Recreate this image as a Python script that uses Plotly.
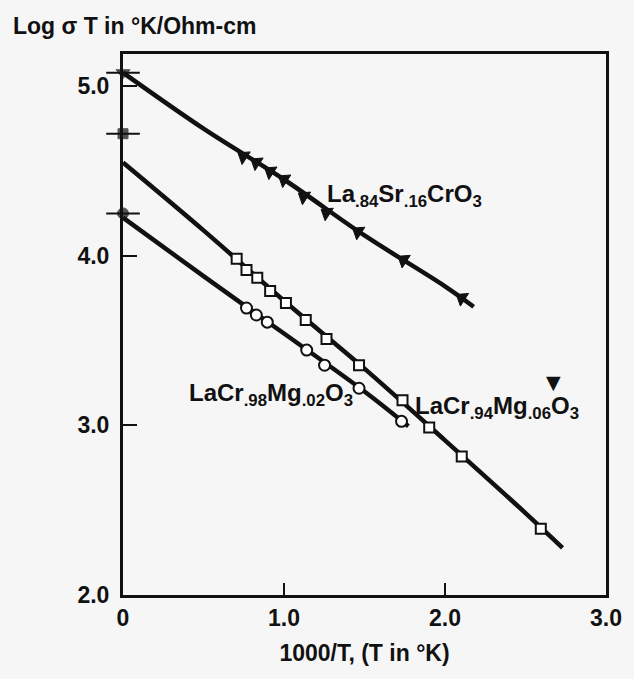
import plotly.graph_objects as go

# --- data ---
sr_x = [0.748, 0.828, 0.914, 1.000, 1.123, 1.264, 1.460, 1.742, 2.104]
sr_y = [4.586, 4.550, 4.497, 4.450, 4.349, 4.254, 4.142, 3.976, 3.751]
sr_fit_x = [0.0, 0.5, 1.0, 1.5, 2.0, 2.178]
sr_fit_y = [5.08, 4.75, 4.45, 4.12, 3.82, 3.70]

mg06_x = [0.706, 0.767, 0.834, 0.914, 1.012, 1.135, 1.264, 1.466, 1.736, 1.902, 2.104, 2.595]
mg06_y = [3.982, 3.917, 3.870, 3.793, 3.722, 3.621, 3.509, 3.355, 3.148, 2.988, 2.817, 2.391]
mg06_fit_x = [0.0, 0.5, 1.0, 1.5, 2.0, 2.5, 2.73]
mg06_fit_y = [4.55, 4.15, 3.735, 3.335, 2.912, 2.483, 2.278]

mg02_x = [0.767, 0.828, 0.896, 1.141, 1.252, 1.466, 1.730]
mg02_y = [3.692, 3.651, 3.609, 3.444, 3.355, 3.219, 3.024]
mg02_fit_x = [0.0, 0.5, 1.0, 1.5, 1.773]
mg02_fit_y = [4.225, 3.88, 3.542, 3.20, 2.995]

# intercepts marked on the y axis
icpt_x = [0.0, 0.0, 0.0]
icpt_y = [5.08, 4.72, 4.25]
icpt_sym = ["triangle-down", "square", "circle"]

x_ticks = [0, 1.0, 2.0, 3.0]
x_ticklabels = ["0", "1.0", "2.0", "3.0"]
y_ticks = [2.0, 3.0, 4.0, 5.0]
y_ticklabels = ["2.0", "3.0", "4.0", "5.0"]

INK = "#111111"
BG = "#f6f6f6"
FONT = "Liberation Sans, Arial, sans-serif"

fig = go.Figure()

for fx, fy in [(sr_fit_x, sr_fit_y), (mg06_fit_x, mg06_fit_y), (mg02_fit_x, mg02_fit_y)]:
    fig.add_trace(go.Scatter(x=fx, y=fy, mode="lines", line=dict(color=INK, width=4.5, shape="spline"),
                             hoverinfo="skip", showlegend=False, cliponaxis=False))

fig.add_trace(go.Scatter(x=sr_x, y=sr_y, mode="markers", showlegend=False,
                         marker=dict(symbol="triangle-left", size=13, angle=33, color=INK,
                                     line=dict(color=INK, width=1))))
fig.add_trace(go.Scatter(x=mg06_x, y=mg06_y, mode="markers", showlegend=False,
                         marker=dict(symbol="square", size=10, color="white",
                                     line=dict(color=INK, width=2))))
fig.add_trace(go.Scatter(x=mg02_x, y=mg02_y, mode="markers", showlegend=False,
                         marker=dict(symbol="circle", size=11, color="white",
                                     line=dict(color=INK, width=2))))

# intercept crosses and filled markers
fig.add_trace(go.Scatter(x=icpt_x, y=icpt_y, mode="markers", showlegend=False, cliponaxis=False,
                         marker=dict(symbol="line-ew", size=24, line=dict(color=INK, width=2))))
fig.add_trace(go.Scatter(x=icpt_x, y=icpt_y, mode="markers", showlegend=False, cliponaxis=False,
                         marker=dict(symbol=icpt_sym, size=[12, 10, 11], color=INK,
                                     line=dict(color=INK, width=1))))

lab_font = dict(family=FONT, size=24, color=INK, weight="bold")
fig.add_annotation(x=1.252, y=4.355, text="La<sub>.84</sub>Sr<sub>.16</sub>CrO<sub>3</sub>",
                   showarrow=False, xanchor="left", yanchor="middle", font=lab_font)
fig.add_annotation(x=0.399, y=3.183, text="LaCr<sub>.98</sub>Mg<sub>.02</sub>O<sub>3</sub>",
                   showarrow=False, xanchor="left", yanchor="middle", font=lab_font)
fig.add_annotation(x=1.804, y=3.107, text="LaCr<sub>.94</sub>Mg<sub>.06</sub>O<sub>3</sub>",
                   showarrow=False, xanchor="left", yanchor="middle", font=lab_font)
fig.add_annotation(x=2.672, y=3.254, text="▼", showarrow=False, xanchor="center", yanchor="middle",
                   font=dict(family="DejaVu Sans", size=19, color=INK))

# y-axis title at top-left
fig.add_annotation(x=-0.231, y=1.052, xref="paper", yref="paper", xanchor="left", yanchor="middle",
                   text="<b>Log σ T in °K/Ohm-cm</b>",
                   showarrow=False, font=dict(family=FONT, size=23, color=INK))

fig.update_layout(
    width=634, height=679,
    margin=dict(l=123, r=22, t=54, b=84),
    paper_bgcolor=BG, plot_bgcolor=BG,
    font=dict(family=FONT, color=INK),
    xaxis=dict(range=[0, 3.0], tickvals=x_ticks, ticktext=x_ticklabels, ticks="inside", ticklen=12,
               tickwidth=2, tickcolor=INK, showgrid=False, zeroline=False, showline=True,
               linecolor=INK, linewidth=3, mirror=True,
               tickfont=dict(family=FONT, size=23, color=INK, weight="bold"),
               title=dict(text="<b>1000/T, (T in °K)</b>", font=dict(family=FONT, size=23, color=INK), standoff=16)),
    yaxis=dict(range=[2.0, 5.19], tickvals=y_ticks, ticktext=y_ticklabels, ticks="inside", ticklen=14,
               tickwidth=2, tickcolor=INK, showgrid=False, zeroline=False, showline=True,
               linecolor=INK, linewidth=3, mirror=True, ticklabelstandoff=6,
               tickfont=dict(family=FONT, size=23, color=INK, weight="bold")),
)

fig.write_html("out.html")
